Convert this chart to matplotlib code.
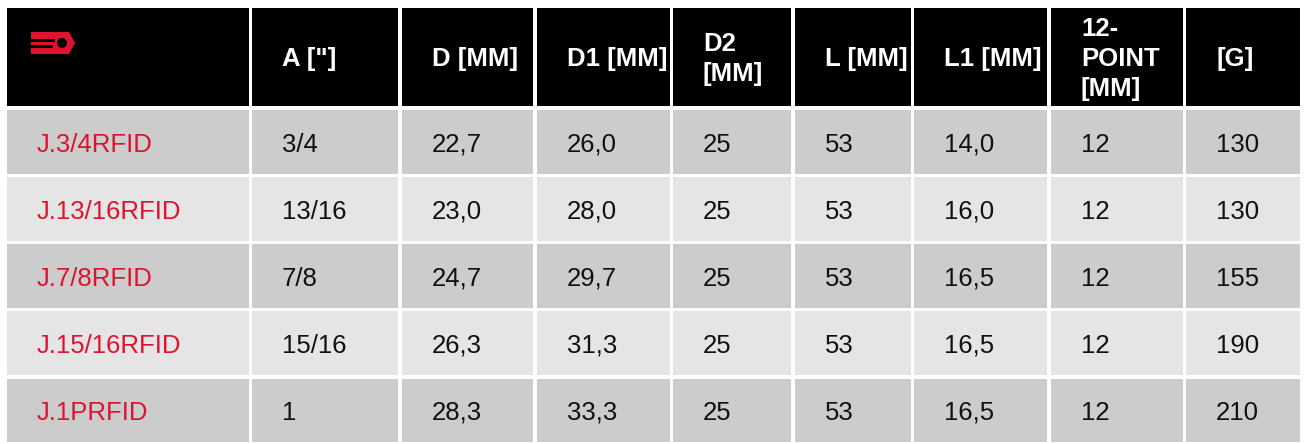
import matplotlib
matplotlib.use("Agg")
import matplotlib.pyplot as plt
from matplotlib.patches import Rectangle, Polygon, Circle

headers = ["", 'A ["]', "D [MM]", "D1 [MM]", "D2\n[MM]", "L [MM]", "L1 [MM]", "12-\nPOINT\n[MM]", "[G]"]
articles = ["J.3/4RFID", "J.13/16RFID", "J.7/8RFID", "J.15/16RFID", "J.1PRFID"]
a_inch = ["3/4", "13/16", "7/8", "15/16", "1"]
d_mm = ["22,7", "23,0", "24,7", "26,3", "28,3"]
d1_mm = ["26,0", "28,0", "29,7", "31,3", "33,3"]
d2_mm = ["25", "25", "25", "25", "25"]
l_mm = ["53", "53", "53", "53", "53"]
l1_mm = ["14,0", "16,0", "16,5", "16,5", "16,5"]
point12 = ["12", "12", "12", "12", "12"]
weight_g = ["130", "130", "155", "190", "210"]

columns = [articles, a_inch, d_mm, d1_mm, d2_mm, l_mm, l1_mm, point12, weight_g]

W, H = 1308, 444
fig = plt.figure(figsize=(W / 100, H / 100), dpi=100)
ax = fig.add_axes([0, 0, 1, 1])
ax.set_xlim(0, W)
ax.set_ylim(H, 0)
ax.axis("off")

col_x = [(7, 249), (252, 398), (402, 533), (537, 670), (673, 791),
         (795, 911), (914, 1047), (1051, 1183), (1186, 1300)]
head_y = (8, 106)
row_y = [(110, 174), (177, 241), (244, 308), (311, 375), (379, 442)]

RED = "#dc1430"
row_colors = ["#cccccc", "#e5e5e5"]
font = "Liberation Sans"
fs = 18.5
pad = 30
line_pitch = 30
head_base = 66

for c, (x0, x1) in enumerate(col_x):
    ax.add_patch(Rectangle((x0, head_y[0]), x1 - x0, head_y[1] - head_y[0],
                           facecolor="black", edgecolor="none"))
    if headers[c]:
        lines = headers[c].split("\n")
        n = len(lines)
        for i, ln in enumerate(lines):
            yb = head_base + (i - (n - 1) / 2) * line_pitch
            ax.text(x0 + pad, yb, ln, color="white",
                    fontsize=fs, fontweight="bold", family=font,
                    ha="left", va="baseline")
    for r, (y0, y1) in enumerate(row_y):
        ax.add_patch(Rectangle((x0, y0), x1 - x0, y1 - y0,
                               facecolor=row_colors[r % 2], edgecolor="none"))
        s = columns[c][r]
        yb = round((y0 + y1) / 2 + 10)
        if "," in s:
            yb -= 1  # compensate renderer shift for strings with a descending comma
        ax.text(x0 + pad, yb, s,
                color=RED if c == 0 else "#111111",
                fontsize=fs, family=font, ha="left", va="baseline")

# logo
ax.add_patch(Polygon([(31, 32), (69, 32), (75, 43), (69, 54), (31, 54)],
                     closed=True, facecolor=RED, edgecolor="none"))
ax.add_patch(Rectangle((31, 39), 24, 3, facecolor="black", edgecolor="none"))
ax.add_patch(Rectangle((31, 45.5), 22, 2.5, facecolor="black", edgecolor="none"))
ax.add_patch(Circle((62, 43), 5, facecolor="black", edgecolor="none"))

fig.savefig("out.png", dpi=100, facecolor="white")
